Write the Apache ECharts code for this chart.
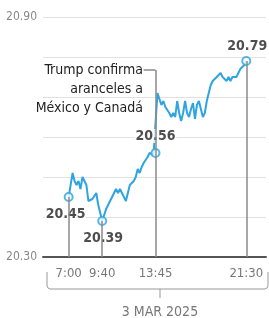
<!DOCTYPE html>
<html>
<head>
<meta charset="utf-8">
<script src="https://cdn.jsdelivr.net/npm/echarts@6/dist/echarts.min.js"></script>
<style>
html, body { margin: 0; padding: 0; background: #fff; }
#chart { width: 269px; height: 318px; }
</style>
</head>
<body>
<div id="chart"></div>
<script>
// peso por dolar, 3 mar 2025 (one sample per step)
var values = [
    20.45, 20.48, 20.51, 20.49, 20.48, 20.49, 20.47, 20.50, 20.49, 20.48,
    20.44, 20.44, 20.445, 20.44, 20.46, 20.43, 20.41, 20.39, 20.405, 20.42,
    20.43, 20.44, 20.45, 20.46, 20.47, 20.46, 20.47, 20.46, 20.455, 20.44,
    20.46, 20.48, 20.48, 20.49, 20.50, 20.52, 20.51, 20.525, 20.535, 20.54,
    20.55, 20.56, 20.56, 20.555, 20.56, 20.71, 20.71, 20.68, 20.69, 20.675,
    20.68, 20.66, 20.65, 20.66, 20.65, 20.69, 20.66, 20.64, 20.66, 20.69,
    20.66, 20.65, 20.67, 20.685, 20.645, 20.68, 20.69, 20.67, 20.65, 20.66,
    20.69, 20.69, 20.73, 20.74, 20.74, 20.75, 20.745, 20.76, 20.75, 20.755,
    20.74, 20.75, 20.74, 20.75, 20.755, 20.75, 20.76, 20.77, 20.77, 20.78,
    20.79
];
var keyIdx = [0, 17, 44, 90];
var keyTimes = ['7:00', '9:40', '13:45', '21:30'];
var yLabels = ['20.30', '20.90'];
var noteText = 'Trump confirma\naranceles a\nMéxico y Canadá';
var dateText = '3 MAR 2025';

var FONT = 'DejaVu Sans Condensed';
var chart = echarts.init(document.getElementById('chart'));

var lineData = values.map(function (v, i) { return [i, v]; });
var labelPos = ['bottom', 'bottom', 'top', 'top'];
var labelOff = [[-3, 0], [1, 0], [0, 0], [1, 2]];
var keyData = keyIdx.map(function (idx, k) {
    return {
        value: [idx, values[idx]],
        label: { position: labelPos[k], offset: labelOff[k] }
    };
});

var noteLevel = 20.7675;
var drops = keyIdx.map(function (idx, k) {
    var top = k === 2 ? noteLevel : values[idx];
    return [{ coord: [idx, 20.30] }, { coord: [idx, top] }];
});
drops.push([{ coord: [44, noteLevel] }, { coord: [38, noteLevel] }]);

var option = {
    animation: false,
    grid: { left: 43, right: 0, top: 17, bottom: 61 },
    xAxis: {
        type: 'value',
        min: -13,
        max: 100,
        interval: 1,
        axisLine: { show: true, onZero: false, lineStyle: { color: '#555', width: 2 } },
        axisTick: { show: false },
        splitLine: { show: false },
        axisLabel: {
            margin: 10,
            color: '#777',
            fontFamily: FONT,
            fontSize: 13,
            formatter: function (v) {
                var k = keyIdx.indexOf(v);
                return k >= 0 ? keyTimes[k] : '';
            }
        }
    },
    yAxis: {
        type: 'value',
        min: 20.3,
        max: 20.9,
        interval: 0.1,
        axisLine: { show: false },
        axisTick: { show: false },
        splitLine: { lineStyle: { color: '#e2e2e2', width: 1 } },
        axisLabel: {
            margin: 6,
            color: '#888',
            fontFamily: FONT,
            fontSize: 12,
            formatter: function (v) {
                var s = v.toFixed(2);
                return yLabels.indexOf(s) >= 0 ? s : '';
            }
        }
    },
    series: [
        {
            type: 'line',
            z: 1,
            data: [],
            markLine: {
                silent: true,
                symbol: 'none',
                label: { show: false },
                lineStyle: { color: '#8a8a8a', width: 1.5, type: 'solid' },
                data: drops
            }
        },
        {
            type: 'line',
            z: 3,
            data: lineData,
            showSymbol: false,
            lineStyle: { color: '#2ea4e0', width: 2 }
        },
        {
            type: 'scatter',
            z: 4,
            data: keyData,
            symbol: 'circle',
            symbolSize: 8,
            itemStyle: { color: '#fff', borderColor: '#2ea4e0', borderWidth: 2 },
            label: {
                show: true,
                distance: 5,
                color: '#222',
                fontFamily: FONT,
                fontWeight: 'bold',
                fontSize: 14,
                backgroundColor: '#fff',
                padding: [0, 1],
                formatter: function (p) { return p.value[1].toFixed(2); }
            }
        }
    ],
    graphic: [
        {
            type: 'text',
            x: 143,
            y: 61,
            style: {
                text: noteText,
                align: 'right',
                verticalAlign: 'top',
                fill: '#222',
                font: '14px "' + FONT + '"',
                lineHeight: 19
            }
        },
        {
            type: 'polyline',
            shape: { points: [[47, 272], [47, 286], [48, 288], [50, 289], [265, 289], [267, 288], [268, 286], [268, 272]] },
            style: { fill: null, stroke: '#999', lineWidth: 1 }
        },
        {
            type: 'line',
            shape: { x1: 160, y1: 289, x2: 160, y2: 298 },
            style: { stroke: '#999', lineWidth: 1 }
        },
        {
            type: 'text',
            x: 160,
            y: 312,
            style: {
                text: dateText,
                align: 'center',
                verticalAlign: 'middle',
                fill: '#777',
                font: '14px "' + FONT + '"'
            }
        }
    ]
};

chart.setOption(option);
window.onresize = chart.resize;
</script>
</body>
</html>
